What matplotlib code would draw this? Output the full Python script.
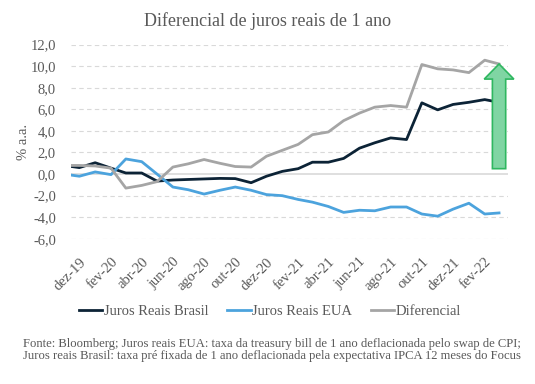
import numpy as np
import pandas as pd
import matplotlib
matplotlib.use("Agg")
import matplotlib.pyplot as plt
from matplotlib.patches import FancyArrow
from matplotlib.ticker import FuncFormatter

plt.rcParams['font.family'] = ['Liberation Serif', 'DejaVu Serif']

# datas: um ponto extra em meados de nov-19, depois mensal dez-19 .. mar-22
datas = [pd.Timestamp("2019-11-16")] + list(pd.date_range("2019-12-01", "2022-03-01", freq="MS"))

juros_brasil = [0.7, 0.6, 1.05, 0.55, 0.1, 0.1, -0.65, -0.55, -0.5, -0.45, -0.4, -0.42, -0.8, -0.2,
                0.25, 0.5, 1.1, 1.1, 1.45, 2.4, 2.9, 3.35, 3.2, 6.6, 5.95, 6.45, 6.65, 6.9, 6.65]
juros_eua = [-0.1, -0.2, 0.2, -0.05, 1.4, 1.15, 0.0, -1.2, -1.45, -1.85, -1.5, -1.2, -1.5, -1.9,
             -2.0, -2.35, -2.6, -3.0, -3.55, -3.35, -3.4, -3.05, -3.05, -3.7, -3.9, -3.25, -2.7, -3.7, -3.6]
diferencial = [0.8, 0.8, 0.75, 0.55, -1.3, -1.05, -0.7, 0.65, 0.95, 1.35, 1.0, 0.7, 0.65, 1.65,
               2.2, 2.75, 3.65, 3.9, 4.95, 5.65, 6.2, 6.35, 6.2, 10.15, 9.75, 9.65, 9.4, 10.55, 10.2]

meses = ["jan", "fev", "mar", "abr", "mai", "jun", "jul", "ago", "set", "out", "nov", "dez"]
ticks = pd.date_range("2019-12-01", "2022-02-01", freq="2MS")
tick_labels = [f"{meses[d.month - 1]}-{d.year % 100:02d}" for d in ticks]

cinza_txt = "#595959"

fig = plt.figure(figsize=(5.35, 3.84), dpi=100)
ax = fig.add_axes([0.133, 0.378, 0.817, 0.506])

for v in np.arange(-6, 13, 2):
    if v == 0:
        ax.axhline(0, color="#d9d9d9", lw=1.2, zorder=1)
    else:
        ax.axhline(v, color="#d9d9d9", lw=0.8, ls=(0, (4, 3)), zorder=1)

ax.plot(datas, juros_brasil, color="#0c2336", lw=2, label="Juros Reais Brasil", zorder=3)
ax.plot(datas, juros_eua, color="#4ca3dd", lw=2, label="Juros Reais EUA", zorder=3)
ax.plot(datas, diferencial, color="#a5a5a5", lw=2, label="Diferencial", zorder=3)

# seta verde no ultimo ponto
xa = matplotlib.dates.date2num(datas[-1])
seta = FancyArrow(xa, 0.5, 0, diferencial[-1] - 0.5, width=26, head_width=58, head_length=1.4,
                  length_includes_head=True, facecolor="#80d5a3", edgecolor="#2fb760", lw=1.2,
                  zorder=4, clip_on=False)
ax.add_patch(seta)

ax.set_ylim(-6, 12)
ax.set_yticks(np.arange(-6, 13, 2))
ax.yaxis.set_major_formatter(FuncFormatter(lambda v, p: f"{v:.1f}".replace(".", ",")))
ax.set_xlim(matplotlib.dates.date2num(datas[0]) - 1, matplotlib.dates.date2num(datas[-1]) + 18)
ax.set_xticks(ticks)
ax.set_xticklabels(tick_labels, rotation=45, ha="right", rotation_mode="anchor")
ax.tick_params(length=0, labelsize=10.5, colors=cinza_txt)
ax.tick_params(axis="y", pad=11)
ax.tick_params(axis="x", pad=12)
for s in ax.spines.values():
    s.set_visible(False)
ax.set_ylabel("% a.a.", color=cinza_txt, fontsize=10.5, labelpad=0)

fig.text(0.5, 0.945, "Diferencial de juros reais de 1 ano", ha="center", va="center",
         fontsize=13, color=cinza_txt)

fig.legend(loc="center", bbox_to_anchor=(0.505, 0.19), ncol=3, frameon=False,
           fontsize=10.5, handlelength=1.6, handletextpad=0.1, columnspacing=1.3,
           labelcolor=cinza_txt)

fig.text(0.043, 0.088, "Fonte: Bloomberg; Juros reais EUA: taxa da treasury bill de 1 ano deflacionada pelo swap de CPI;\n"
         "Juros reais Brasil: taxa pré fixada de 1 ano deflacionada pela expectativa IPCA 12 meses do Focus",
         ha="left", va="center", fontsize=9.1, color=cinza_txt, linespacing=1.05)

fig.savefig("out.png", dpi=100)
